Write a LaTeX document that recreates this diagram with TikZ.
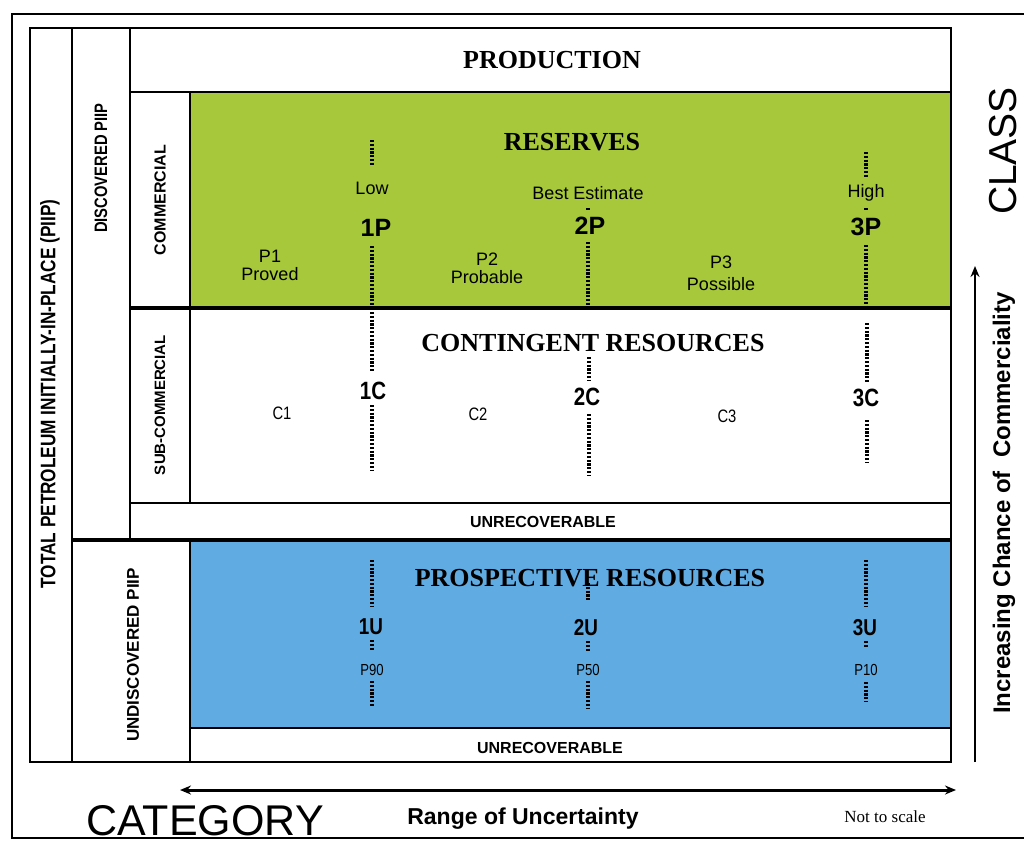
\documentclass[tikz,border=0pt]{standalone}
\usepackage{fontspec}
\setmainfont{Liberation Sans}
\newfontfamily\titlefont{Liberation Serif}
\newfontfamily\narrowfont[FakeStretch=0.82]{Liberation Sans}
\usepackage{tikz}
\usetikzlibrary{arrows.meta}
\newcommand{\fsz}[1]{\fontsize{#1}{#1}\selectfont}
\definecolor{resgreen}{RGB}{166,200,58}
\definecolor{prosblue}{RGB}{96,172,226}
\tikzset{
  frame/.style={line width=1.8pt},
  heavy/.style={line width=3.6pt},
  ladder/.style={line width=4.5pt,dash pattern=on 2.2pt off 1.6pt},
  title/.style={font=\titlefont\bfseries\fsz{26}},
  sidelbl/.style={rotate=90,font=\narrowfont\bfseries\fsz{18}},
  estlbl/.style={font=\fsz{18},align=center},
  caselbl/.style={font=\bfseries\fsz{25}},
  pctlbl/.style={font=\narrowfont\fsz{16}},
  unrec/.style={font=\bfseries\fsz{16}}
}

\begin{document}
\begin{tikzpicture}[x=1pt,y=-1pt]
\useasboundingbox (0,0) rectangle (1024,843);
\fill[white] (0,0) rectangle (1024,843);
\fill[resgreen] (190,92) rectangle (950,308);
\fill[prosblue] (190,540) rectangle (950,728);
\draw[frame] (1024,14) -- (12,14) -- (12,838) -- (1024,838);
\draw[frame] (30,28) rectangle (951,762);
\draw[frame] (72,28) -- (72,762);
\draw[frame] (130,28) -- (130,540);
\draw[frame] (130,92) -- (951,92);
\draw[frame] (190,92) -- (190,503);
\draw[heavy] (130,308) -- (951,308);
\draw[frame] (130,503) -- (951,503);
\draw[heavy] (72,540) -- (951,540);
\draw[frame] (190,540) -- (190,762);
\draw[frame] (190,728) -- (951,728);
\node[title] (prod) at (552,60) {PRODUCTION};
\node[title] (res) at (572,142) {RESERVES};
\node[title] (cont) at (593,343) {CONTINGENT RESOURCES};
\node[title] (pros) at (590,578) {PROSPECTIVE RESOURCES};
\node[sidelbl,font=\narrowfont\bfseries\fsz{21}] (piip) at (50,394) {TOTAL PETROLEUM INITIALLY-IN-PLACE (PIIP)};
\node[sidelbl] (disc) at (101,168) {DISCOVERED PIIP};
\node[sidelbl,font=\bfseries\fsz{16}] (comm) at (160,200) {COMMERCIAL};
\node[sidelbl,font=\bfseries\fsz{15}] (subc) at (160,405) {SUB-COMMERCIAL};
\node[sidelbl,font=\bfseries\fsz{17}] (undisc) at (133,655) {UNDISCOVERED PIIP};
% reserves
\draw[ladder] (372,140) -- (372,166);
\node[estlbl] (low) at (372,188) {Low};
\node[caselbl] (p1case) at (376,228) {1P};
\draw[ladder] (372,246) -- (372,306);
\node[estlbl] (best) at (588,193) {Best Estimate};
\draw[ladder] (588,208) -- (588,211);
\node[caselbl] (p2case) at (590,226) {2P};
\draw[ladder] (588,242) -- (588,306);
\draw[ladder] (866,152) -- (866,177);
\node[estlbl] (high) at (866,193) {High};
\draw[ladder] (866,208) -- (866,211);
\node[caselbl] (p3case) at (866,227) {3P};
\draw[ladder] (866,245) -- (866,306);
\node[estlbl] (p1) at (270,265) {P1\\Proved};
\node[estlbl] (p2) at (487,268) {P2\\Probable};
\node[estlbl] (p3) at (721,273) {P3\\[4pt]Possible};
% contingent
\draw[ladder] (372,312) -- (372,372);
\node[caselbl,font=\narrowfont\bfseries\fsz{25}] (c1case) at (373,391) {1C};
\draw[ladder] (372,405) -- (372,471);
\draw[ladder] (589,357) -- (589,381);
\node[caselbl,font=\narrowfont\bfseries\fsz{25}] (c2case) at (587,397) {2C};
\draw[ladder] (589,414) -- (589,476);
\draw[ladder] (867,323) -- (867,383);
\node[caselbl,font=\narrowfont\bfseries\fsz{25}] (c3case) at (866,398) {3C};
\draw[ladder] (867,420) -- (867,463);
\node[pctlbl,font=\narrowfont\fsz{18}] (c1) at (282,413) {C1};
\node[pctlbl,font=\narrowfont\fsz{18}] (c2) at (478,414) {C2};
\node[pctlbl,font=\narrowfont\fsz{18}] (c3) at (727,416) {C3};
\node[unrec] (unrec1) at (543,522) {UNRECOVERABLE};
% prospective
\draw[ladder] (372,560) -- (372,606);
\node[caselbl,font=\narrowfont\bfseries\fsz{23}] (u1case) at (371,627) {1U};
\draw[ladder] (372,640) -- (372,651);
\node[pctlbl] (p90) at (372,670) {P90};
\draw[ladder] (372,681) -- (372,706);
\draw[ladder] (588,583) -- (588,600);
\node[caselbl,font=\narrowfont\bfseries\fsz{23}] (u2case) at (586,628) {2U};
\draw[ladder] (588,641) -- (588,652);
\node[pctlbl] (p50) at (588,670) {P50};
\draw[ladder] (588,681) -- (588,708);
\draw[ladder] (866,560) -- (866,607);
\node[caselbl,font=\narrowfont\bfseries\fsz{23}] (u3case) at (865,628) {3U};
\draw[ladder] (866,641) -- (866,648);
\node[pctlbl] (p10) at (866,670) {P10};
\draw[ladder] (866,682) -- (866,702);
\node[unrec] (unrec2) at (550,748) {UNRECOVERABLE};
% axes
\coordinate (rngl) at (180,790);
\coordinate (rngr) at (956,790);
\draw[line width=3pt,{Stealth[length=11pt,width=9pt]}-{Stealth[length=11pt,width=9pt]}] (rngl) -- (rngr);
\coordinate (chlo) at (975,762);
\coordinate (chhi) at (975,266);
\draw[line width=2.5pt,-{Stealth[length=11pt,width=9pt]}] (chlo) -- (chhi);
\node[font=\fsz{43},inner sep=0pt] (cat) at (205,821) {CATEGORY};
\node[font=\bfseries\fsz{23}] (range) at (523,819) {Range of Uncertainty};
\node[font=\titlefont\fsz{17}] (scale) at (885,817) {Not to scale};
\node[rotate=90,font=\fsz{39},inner sep=0pt] (class) at (1003,151) {CLASS};
\node[rotate=90,font=\bfseries\fsz{24},inner sep=0pt] (incr) at (1004,503) {Increasing Chance of\ \ Commerciality};
\end{tikzpicture}
\end{document}
